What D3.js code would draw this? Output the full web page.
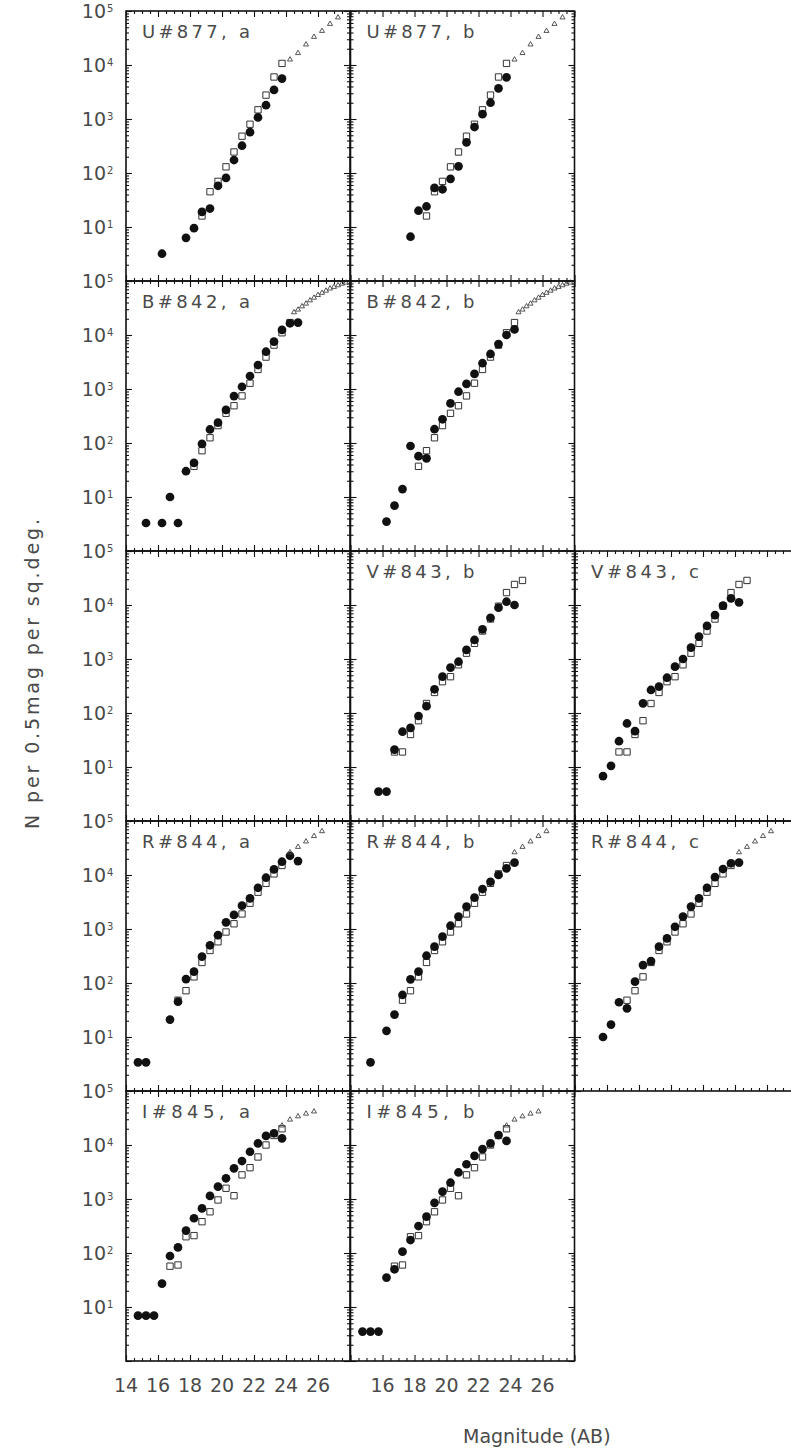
<!DOCTYPE html>
<html>
<head>
<meta charset="utf-8">
<script src="https://cdn.jsdelivr.net/npm/d3@7"></script>
<style>
  html, body { margin: 0; padding: 0; background: #fff; }
  svg { display: block; }
  text { font-family: "DejaVu Sans", "Liberation Sans", Arial, sans-serif; fill: #4a4a4a; }
</style>
</head>
<body>
<svg id="chart" width="791" height="1454"></svg>
<script>
// ---------------------------------------------------------------
// Galaxy number counts, N per 0.5 mag per sq.deg., per band/field
// ---------------------------------------------------------------

// axis extents and tick labels
const magDomain   = [14, 28];
const countDomain = [1, 1e5];
const xTickLabels = [14, 16, 18, 20, 22, 24, 26];
const yTickExps   = [1, 2, 3, 4, 5];

// U band, field #877
const magUa = [16.25, 17.75, 18.25, 18.75, 19.25, 19.75, 20.25, 20.75, 21.25, 21.75, 22.25, 22.75, 23.25, 23.75];
const nUa   = [3.2, 6.3, 9.5, 19, 22, 58, 81, 174, 320, 570, 1070, 1800, 3450, 5600];
const magUb = [17.75, 18.25, 18.75, 19.25, 19.75, 20.25, 20.75, 21.25, 21.75, 22.25, 22.75, 23.25, 23.75];
const nUb   = [6.6, 20, 24, 53, 50, 78, 133, 370, 710, 1230, 2000, 3700, 5900];
const magUref = [18.75, 19.25, 19.75, 20.25, 20.75, 21.25, 21.75, 22.25, 22.75, 23.25, 23.75];
const nUref   = [16, 45, 70, 130, 245, 480, 800, 1480, 2770, 6000, 10700];
const magUdeep = [24.25, 24.75, 25.25, 25.75, 26.25, 26.75, 27.25];
const nUdeep   = [12600, 16600, 24000, 33100, 42700, 57500, 75900];

// B band, field #842
const magBa = [15.25, 16.25, 16.75, 17.25, 17.75, 18.25, 18.75, 19.25, 19.75, 20.25, 20.75, 21.25, 21.75, 22.25, 22.75, 23.25, 23.75, 24.25, 24.75];
const nBa   = [3.3, 3.3, 10, 3.3, 30, 43, 96, 178, 238, 410, 740, 1100, 1740, 2780, 4900, 7560, 12400, 16500, 17000];
const magBb = [16.25, 16.75, 17.25, 17.75, 18.25, 18.75, 19.25, 19.75, 20.25, 20.75, 21.25, 21.75, 22.25, 22.75, 23.25, 23.75, 24.25];
const nBb   = [3.5, 6.9, 14, 88, 57, 52, 180, 275, 540, 890, 1240, 1900, 3000, 4450, 6800, 10000, 12700];
const magBref = [18.25, 18.75, 19.25, 19.75, 20.25, 20.75, 21.25, 21.75, 22.25, 22.75, 23.25, 23.75, 24.25];
const nBref   = [37, 72, 125, 210, 355, 490, 745, 1280, 2300, 3900, 6500, 11000, 17000];
const magBdeep = [24.5, 24.75, 25.0, 25.25, 25.5, 25.75, 26.0, 26.25, 26.5, 26.75, 27.0, 27.25, 27.5, 27.75];
const nBdeep   = [26300, 29500, 33900, 38000, 43700, 49000, 55000, 60300, 66100, 72400, 77600, 83200, 89100, 93300];

// V band, field #843
const magVb = [15.75, 16.25, 16.75, 17.25, 17.75, 18.25, 18.75, 19.25, 19.75, 20.25, 20.75, 21.25, 21.75, 22.25, 22.75, 23.25, 23.75, 24.25];
const nVb   = [3.5, 3.5, 21, 45, 53, 88, 134, 275, 470, 690, 890, 1470, 2250, 3550, 5800, 8900, 11500, 10000];
const magVc = [15.75, 16.25, 16.75, 17.25, 17.75, 18.25, 18.75, 19.25, 19.75, 20.25, 20.75, 21.25, 21.75, 22.25, 22.75, 23.25, 23.75, 24.25];
const nVc   = [6.8, 10.5, 30, 64, 46, 151, 267, 308, 450, 720, 1000, 1620, 2600, 4100, 6500, 9700, 13300, 11200];
const magVref = [16.75, 17.25, 17.75, 18.25, 18.75, 19.25, 19.75, 20.25, 20.75, 21.25, 21.75, 22.25, 22.75, 23.25, 23.75, 24.25, 24.75];
const nVref   = [19, 19, 40, 72, 150, 240, 380, 470, 780, 1280, 1950, 3300, 5500, 9500, 17000, 24000, 28500];

// R band, field #844
const magRa = [14.75, 15.25, 16.75, 17.25, 17.75, 18.25, 18.75, 19.25, 19.75, 20.25, 20.75, 21.25, 21.75, 22.25, 22.75, 23.25, 23.75, 24.25, 24.75];
const nRa   = [3.4, 3.4, 21, 45, 118, 162, 307, 500, 770, 1330, 1820, 2700, 3700, 5800, 8900, 12700, 17600, 22700, 18100];
const magRb = [15.25, 16.25, 16.75, 17.25, 17.75, 18.25, 18.75, 19.25, 19.75, 20.25, 20.75, 21.25, 21.75, 22.25, 22.75, 23.25, 23.75, 24.25];
const nRb   = [3.4, 13, 26, 60, 117, 162, 320, 470, 720, 1150, 1700, 2600, 3800, 5500, 7500, 10000, 13300, 16900];
const magRc = [15.75, 16.25, 16.75, 17.25, 17.75, 18.25, 18.75, 19.25, 19.75, 20.25, 20.75, 21.25, 21.75, 22.25, 22.75, 23.25, 23.75, 24.25];
const nRc   = [10, 17, 44, 34, 106, 215, 255, 470, 670, 1100, 1700, 2600, 3700, 5800, 9100, 12900, 16500, 17000];
const magRref = [17.25, 17.75, 18.25, 18.75, 19.25, 19.75, 20.25, 20.75, 21.25, 21.75, 22.25, 22.75, 23.25, 23.75];
const nRref   = [48, 72, 130, 240, 400, 580, 880, 1250, 1900, 3000, 4800, 7000, 10500, 15000];
const magRdeep = [24.25, 24.75, 25.25, 25.75, 26.25];
const nRdeep   = [26300, 33100, 41700, 52500, 64600];

// I band, field #845
const magIa = [14.75, 15.25, 15.75, 16.25, 16.75, 17.25, 17.75, 18.25, 18.75, 19.25, 19.75, 20.25, 20.75, 21.25, 21.75, 22.25, 22.75, 23.25, 23.75];
const nIa   = [6.9, 6.9, 6.9, 27, 88, 127, 260, 440, 670, 1140, 1700, 2420, 3700, 5050, 7500, 10700, 14700, 16500, 13300];
const magIb = [14.75, 15.25, 15.75, 16.25, 16.75, 17.25, 17.75, 18.25, 18.75, 19.25, 19.75, 20.25, 20.75, 21.25, 21.75, 22.25, 22.75, 23.25, 23.75];
const nIb   = [3.5, 3.5, 3.5, 35, 50, 106, 174, 316, 470, 850, 1370, 2000, 3100, 4400, 6300, 8400, 10700, 15300, 11900];
const magIref = [16.75, 17.25, 17.75, 18.25, 18.75, 19.25, 19.75, 20.25, 20.75, 21.25, 21.75, 22.25, 22.75, 23.25, 23.75];
const nIref   = [57, 60, 200, 210, 380, 580, 960, 1580, 1150, 2800, 3800, 6000, 10000, 15000, 20000];
const magIdeep = [23.75, 24.25, 24.75, 25.25, 25.75];
const nIdeep   = [22900, 29500, 33900, 38000, 41700];

// ---------------------------------------------------------------
// panel grid
// ---------------------------------------------------------------
const zip = (m, n) => m.map((v, i) => ({ mag: v, n: n[i] }));

const panels = [
  { label: "U#877, a", row: 0, col: 0, obs: zip(magUa, nUa), ref: zip(magUref, nUref), deep: zip(magUdeep, nUdeep) },
  { label: "U#877, b", row: 0, col: 1, obs: zip(magUb, nUb), ref: zip(magUref, nUref), deep: zip(magUdeep, nUdeep) },
  { label: "B#842, a", row: 1, col: 0, obs: zip(magBa, nBa), ref: zip(magBref, nBref), deep: zip(magBdeep, nBdeep) },
  { label: "B#842, b", row: 1, col: 1, obs: zip(magBb, nBb), ref: zip(magBref, nBref), deep: zip(magBdeep, nBdeep) },
  { label: null,       row: 2, col: 0, obs: [], ref: [], deep: [] },
  { label: "V#843, b", row: 2, col: 1, obs: zip(magVb, nVb), ref: zip(magVref, nVref), deep: [] },
  { label: "V#843, c", row: 2, col: 2, obs: zip(magVc, nVc), ref: zip(magVref, nVref), deep: [] },
  { label: "R#844, a", row: 3, col: 0, obs: zip(magRa, nRa), ref: zip(magRref, nRref), deep: zip(magRdeep, nRdeep) },
  { label: "R#844, b", row: 3, col: 1, obs: zip(magRb, nRb), ref: zip(magRref, nRref), deep: zip(magRdeep, nRdeep) },
  { label: "R#844, c", row: 3, col: 2, obs: zip(magRc, nRc), ref: zip(magRref, nRref), deep: zip(magRdeep, nRdeep) },
  { label: "I#845, a", row: 4, col: 0, obs: zip(magIa, nIa), ref: zip(magIref, nIref), deep: zip(magIdeep, nIdeep) },
  { label: "I#845, b", row: 4, col: 1, obs: zip(magIb, nIb), ref: zip(magIref, nIref), deep: zip(magIdeep, nIdeep) }
];

const W = 791, H = 1454;
const panelW = 224, panelH = 270;
const left0 = 126, top0 = 11, colStep = 224.5, rowStep = 270;
const lastRow = 4;

const svg = d3.select("#chart");
svg.append("rect").attr("width", W).attr("height", H).attr("fill", "#fff");

const x = d3.scaleLinear().domain(magDomain).range([0, panelW]);
const y = d3.scaleLog().domain(countDomain).range([panelH, 0]);

// tick positions
const xMajor = xTickLabels.concat([magDomain[1]]);
const xMinor = [];
for (let m = magDomain[0]; m <= magDomain[1]; m += 0.5) if (m % 2 !== 0) xMinor.push(m);
const yMajor = [1].concat(yTickExps.map(e => Math.pow(10, e)));
const yMinor = [];
for (let e = 0; e < 5; e++) for (let k = 2; k <= 9; k++) yMinor.push(k * Math.pow(10, e));

const circleSym = d3.symbol().type(d3.symbolCircle).size(60);
const squareSym = d3.symbol().type(d3.symbolSquare).size(40);
const triSym    = d3.symbol().type(d3.symbolTriangle).size(11);

function styleAxis(g) {
  g.select(".domain").remove();
  g.selectAll(".tick line").attr("stroke", "#111").attr("stroke-width", 1.1);
  g.selectAll("text").remove();
}

panels.forEach(p => {
  const px = left0 + p.col * colStep;
  const py = top0 + p.row * rowStep;
  const g = svg.append("g").attr("transform", `translate(${px},${py})`);

  // ticks pointing inward on all four sides
  const axes = [
    [d3.axisBottom, xMajor, 6, `translate(0,${panelH})`, x],
    [d3.axisBottom, xMinor, 3, `translate(0,${panelH})`, x],
    [d3.axisTop,    xMajor, 6, null, x],
    [d3.axisTop,    xMinor, 3, null, x],
    [d3.axisLeft,   yMajor, 6, null, y],
    [d3.axisLeft,   yMinor, 3, null, y],
    [d3.axisRight,  yMajor, 6, `translate(${panelW},0)`, y],
    [d3.axisRight,  yMinor, 3, `translate(${panelW},0)`, y]
  ];
  axes.forEach(([fn, vals, len, tr, sc]) => {
    const a = g.append("g");
    if (tr) a.attr("transform", tr);
    a.call(fn(sc).tickValues(vals).tickSize(-len).tickFormat("")).call(styleAxis);
  });

  // reference counts (open squares), deep counts (small triangles), this field (filled circles)
  g.selectAll(".ref").data(p.ref).join("path")
    .attr("d", squareSym)
    .attr("transform", d => `translate(${x(d.mag)},${y(d.n)})`)
    .attr("fill", "#fff").attr("stroke", "#333").attr("stroke-width", 1);

  g.selectAll(".obs").data(p.obs).join("path")
    .attr("d", circleSym)
    .attr("transform", d => `translate(${x(d.mag)},${y(d.n)})`)
    .attr("fill", "#111");

  g.selectAll(".deep").data(p.deep).join("path")
    .attr("d", triSym)
    .attr("transform", d => `translate(${x(d.mag)},${y(d.n)})`)
    .attr("fill", "none").attr("stroke", "#444").attr("stroke-width", 0.9);

  // frame
  g.append("rect").attr("width", panelW).attr("height", panelH)
    .attr("fill", "none").attr("stroke", "#111").attr("stroke-width", 1.6);

  if (p.label) {
    g.append("text").attr("x", 16).attr("y", 27)
      .attr("font-size", 18)
      .attr("textLength", 108).attr("lengthAdjust", "spacing")
      .text(p.label);
  }

  // decade labels on the left column
  if (p.col === 0) {
    yTickExps.forEach(e => {
      const ty = y(Math.pow(10, e));
      g.append("text").attr("x", -20).attr("y", ty + 7)
        .attr("text-anchor", "end").attr("font-size", 19).text("10");
      g.append("text").attr("x", -19).attr("y", ty + 0.5)
        .attr("font-size", 10).text(String(e));
    });
  }

  // magnitude labels under the bottom row
  if (p.row === lastRow) {
    xTickLabels.filter(v => p.col === 0 || v > magDomain[0]).forEach(v => {
      g.append("text").attr("x", x(v)).attr("y", panelH + 31)
        .attr("text-anchor", "middle").attr("font-size", 19).text(v);
    });
  }
});

// axis titles
svg.append("text")
  .attr("transform", "translate(39,674) rotate(-90)")
  .attr("text-anchor", "middle").attr("font-size", 19)
  .attr("textLength", 310).attr("lengthAdjust", "spacing")
  .text("N per 0.5mag per sq.deg.");

svg.append("text")
  .attr("x", 463).attr("y", 1443)
  .attr("font-size", 19)
  .text("Magnitude (AB)");
</script>
</body>
</html>
